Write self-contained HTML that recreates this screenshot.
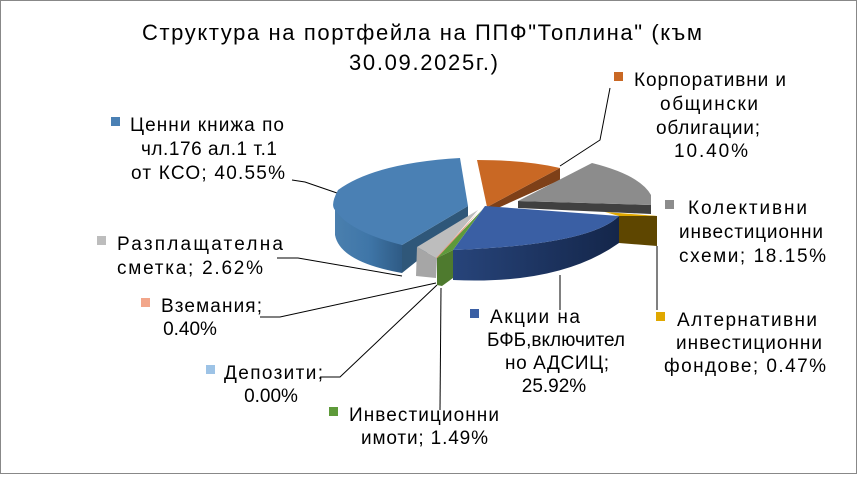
<!DOCTYPE html><html><head><meta charset="utf-8"><style>
body{margin:0;background:#fff}
svg text{font-family:"Liberation Sans",sans-serif;fill:#000}
</style></head><body>
<svg width="857" height="474" viewBox="0 0 857 474" xmlns="http://www.w3.org/2000/svg">
<defs>
<linearGradient id="bs" x1="0" x2="1"><stop offset="0" stop-color="#4a7fae"/><stop offset="0.5" stop-color="#3f76a8"/><stop offset="1" stop-color="#2f5b85"/></linearGradient>
<linearGradient id="ds" x1="0" x2="1"><stop offset="0" stop-color="#27447a"/><stop offset="1" stop-color="#14264a"/></linearGradient>
</defs>
<rect x="0.5" y="0.5" width="856" height="473" fill="#fff" stroke="#888"/>
<g font-size="22">
<text x="142" y="40" textLength="560" lengthAdjust="spacing">Структура на портфейла на ППФ"Топлина" (към</text>
<text x="349" y="70" textLength="149" lengthAdjust="spacing">30.09.2025г.)</text>
</g>
<g stroke="#000" stroke-width="1" fill="none">
<polyline points="292,180 305,182 337,193"/>
<polyline points="277,258 298,258 402,276"/>
<polyline points="260,317 280,317 436,283"/>
<polyline points="320,377 340,377 437,285"/>
<polyline points="440,410 441,288"/>
<polyline points="560,166 600,140 610,88"/>
<polyline points="560,310 560,275"/>
<polyline points="657,310 657,246"/>
</g>
<path d="M335,205 L335,235 Q340,262 402,273 L402,245 Z" fill="url(#bs)"/>
<path d="M402,245 L468,206 L468,220 L402,273 Z" fill="#2f5779"/>
<path d="M468,206 L460,158 Q375,163 338,190 Q330,205 335,210 Q350,232 402,245 Z" fill="#4a80b4"/>
<path d="M487,207 L560,168 L560,180 L489,212 Z" fill="#7e4018"/>
<path d="M487,207 L477,160 Q525,160 560,168 Z" fill="#c96824"/>
<path d="M518,201 L651,205 L651,214 L518,208 Z" fill="#404040"/>
<path d="M518,201 L592,163 Q640,175 651,195 L651,205 Z" fill="#8c8c8c"/>
<path d="M619,214 L657,216 L657,246 L619,243 Z" fill="#5e4600"/>
<path d="M605,212 L657,216 L619,216 Z" fill="#e0a800"/>
<path d="M453,250 L453,280 Q560,285 619,243 L619,216 Q590,245 453,250 Z" fill="url(#ds)"/>
<path d="M485,206 L619,216 Q590,245 453,250 Z" fill="#3a5fa4"/>
<path d="M417,247 L437,258 L436,278 L416,276 Z" fill="#a6a6a6"/>
<path d="M417,247 L478,210 L437,258 Z" fill="#bdbdbd"/>
<path d="M436,258 L478,212 L440,258 Z" fill="#e79a80"/>
<path d="M437,258 L453,250 L453,278 L442,286 L437,285 Z" fill="#4e7a2e"/>
<path d="M437,258 L482,210 L453,250 Z" fill="#5e9a3a"/>
<g font-size="19">
<rect x="111" y="117" width="9" height="9" fill="#4a80b4"/>
<text x="130" y="131" textLength="154" lengthAdjust="spacing">Ценни книжа по</text>
<text x="141" y="155" textLength="136" lengthAdjust="spacing">чл.176 ал.1 т.1</text>
<text x="131" y="179" textLength="154" lengthAdjust="spacing">от КСО; 40.55%</text>
<rect x="97" y="236" width="9" height="9" fill="#bdbdbd"/>
<text x="117" y="250" textLength="166" lengthAdjust="spacing">Разплащателна</text>
<text x="117" y="274" textLength="146" lengthAdjust="spacing">сметка; 2.62%</text>
<rect x="141" y="298" width="9" height="9" fill="#f2a68a"/>
<text x="161" y="312" textLength="101" lengthAdjust="spacing">Вземания;</text>
<text x="190" y="335" text-anchor="middle">0.40%</text>
<rect x="206" y="365" width="9" height="9" fill="#9dc3e6"/>
<text x="224" y="379" textLength="99" lengthAdjust="spacing">Депозити;</text>
<text x="271" y="402" text-anchor="middle">0.00%</text>
<rect x="329" y="407" width="9" height="9" fill="#5e9a3a"/>
<text x="349" y="421" textLength="150" lengthAdjust="spacing">Инвестиционни</text>
<text x="361" y="444" textLength="127" lengthAdjust="spacing">имоти; 1.49%</text>
<rect x="470" y="309" width="9" height="9" fill="#3a5fa4"/>
<text x="490" y="323" textLength="90" lengthAdjust="spacing">Акции на</text>
<text x="556" y="346" text-anchor="middle">БФБ,включител</text>
<text x="505" y="369" textLength="104" lengthAdjust="spacing">но АДСИЦ;</text>
<text x="554" y="392" text-anchor="middle">25.92%</text>
<rect x="656" y="312" width="9" height="9" fill="#e0a800"/>
<text x="677" y="326" textLength="140" lengthAdjust="spacing">Алтернативни</text>
<text x="676" y="349" textLength="146" lengthAdjust="spacing">инвестиционни</text>
<text x="664" y="372" textLength="162" lengthAdjust="spacing">фондове; 0.47%</text>
<rect x="665" y="200" width="9" height="9" fill="#8c8c8c"/>
<text x="688" y="214" textLength="119" lengthAdjust="spacing">Колективни</text>
<text x="679" y="238" textLength="144" lengthAdjust="spacing">инвестиционни</text>
<text x="679" y="262" textLength="147" lengthAdjust="spacing">схеми; 18.15%</text>
<rect x="614" y="72" width="9" height="9" fill="#c96824"/>
<text x="634" y="86" textLength="152" lengthAdjust="spacing">Корпоративни и</text>
<text x="660" y="110" textLength="98" lengthAdjust="spacing">общински</text>
<text x="656" y="134" textLength="104" lengthAdjust="spacing">облигации;</text>
<text x="674" y="157" textLength="74" lengthAdjust="spacing">10.40%</text>
</g>
</svg>
</body></html>
